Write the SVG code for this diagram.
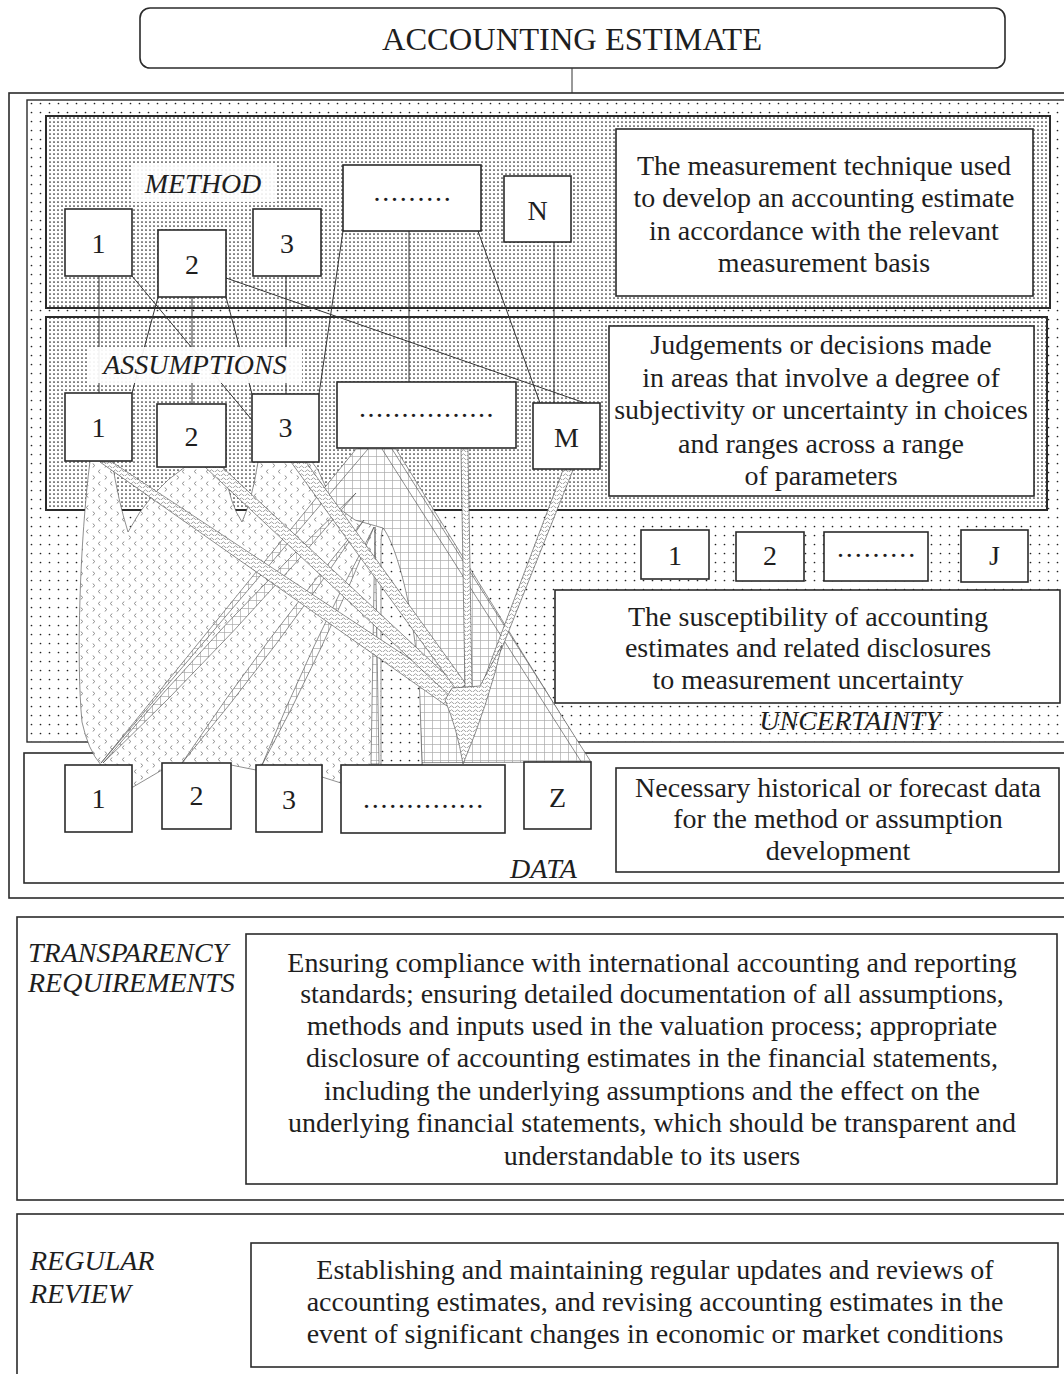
<svg xmlns="http://www.w3.org/2000/svg" width="1064" height="1374" viewBox="0 0 1064 1374">
<defs>
  <pattern id="dense" width="4" height="4" patternUnits="userSpaceOnUse">
    <rect width="4" height="4" fill="#fff"/>
    <circle cx="2" cy="2" r="0.85" fill="#222"/>
  </pattern>
  <pattern id="sparse" width="9" height="9" patternUnits="userSpaceOnUse">
    <rect width="9" height="9" fill="#fff"/>
    <circle cx="4.5" cy="4.5" r="0.85" fill="#222"/>
  </pattern>
  <pattern id="chev" width="12" height="12" patternUnits="userSpaceOnUse">
    <rect width="12" height="12" fill="#fff"/>
    <path d="M4,1.5 L2.5,3.5 L4,5.5 M9,7.5 L10.5,9.5 L9,11.5" fill="none" stroke="#777" stroke-width="0.9"/>
  </pattern>
  <pattern id="grid" width="8" height="8" patternUnits="userSpaceOnUse">
    <rect width="8" height="8" fill="#fff"/>
    <path d="M0,0.5 H8 M0.5,0 V8" fill="none" stroke="#aaa" stroke-width="0.7"/>
  </pattern>
  <pattern id="wave" width="6" height="4" patternUnits="userSpaceOnUse">
    <rect width="6" height="4" fill="#fff"/>
    <path d="M0,3 Q1.5,0.5 3,3 T6,3" fill="none" stroke="#999" stroke-width="0.9"/>
  </pattern>
</defs>
<style>
  .frame{fill:#fff;stroke:#2b2b2b;stroke-width:1.6}
  .box{fill:#fff;stroke:#2b2b2b;stroke-width:1.6}
  .t{font-family:"Liberation Serif","Times New Roman",serif;font-size:28px;fill:#1e1e1e;text-anchor:middle}
  .lbl{font-family:"Liberation Serif","Times New Roman",serif;font-size:28px;font-style:italic;fill:#1e1e1e}
  .fan{stroke:#444;stroke-width:0.6}
  .conn line{stroke:#333;stroke-width:1}
</style>

<!-- title -->
<g id="title">
  <rect class="box" x="140" y="8" width="865" height="60" rx="10"/>
  <text class="t" x="572" y="50" style="font-size:32.5px">ACCOUNTING ESTIMATE</text>
</g>

<!-- regions -->
<g id="estimate-frame">
  <rect class="frame" x="9" y="93" width="1070" height="805"/>
</g>
<g id="uncertainty-region">
  <rect x="27" y="100" width="1050" height="642" fill="url(#sparse)" stroke="#2b2b2b" stroke-width="1.4"/>
</g>
<g id="method-region">
  <rect x="46" y="116" width="1004" height="192" fill="url(#dense)" stroke="#2b2b2b" stroke-width="2"/>
</g>
<g id="assumptions-region">
  <rect x="46" y="317" width="1001" height="193" fill="url(#dense)" stroke="#2b2b2b" stroke-width="2"/>
</g>
<g id="data-region">
  <rect class="frame" x="24" y="753" width="1055" height="130"/>
</g>

<!-- fans -->
<g id="fans">
  <path class="fan" fill="url(#grid)" d="M358,449 L396,449 L590,762 L101,764 Z"/>
  <path class="fan" fill="url(#chev)" d="M90,461 C80,540 76,660 82,722 Q88,750 101,765 L101,790 L133,787 L162,770 L231,765 L256,770 L322,777 L341,783 L422,765 C421,700 410,590 383,528 L355,520 L334,505 L318,470 L312,462 L258,462 Q252,500 242,522 Q230,505 224,467 L185,467 Q150,490 128,532 Q118,500 112,461 Z"/>
  <path class="fan" fill="url(#sparse)" d="M383,528 C397,545 417,620 420,700 L422,765 L381,765 L381,545 Q381,532 383,528 Z"/>
  <path class="fan" fill="url(#grid)" d="M101,763 L356,449 L368,449 Z"/>
  <path class="fan" fill="url(#grid)" d="M103,763 Q236.8,634.8 356,493 Q222.2,621.2 103,763 Z"/>
  <path class="fan" fill="url(#grid)" d="M182,763 Q279.4,646.3 364,520 Q266.6,636.7 182,763 Z"/>
  <path class="fan" fill="url(#grid)" d="M262,765 Q324.3,649 374,527 Q311.7,643 262,765 Z"/>
  <path class="fan" fill="url(#grid)" d="M371,764 L375,527 L379,764 Z"/>
  <path class="fan" fill="url(#grid)" d="M382,449 L392,449 L591,762 L582,763 Z"/>
  <path class="fan" fill="url(#wave)" d="M100,462 L112,462 L457,690 L447,706 Z"/>
  <path class="fan" fill="url(#wave)" d="M205,467 L222,467 L460,688 L452,698 Z"/>
  <path class="fan" fill="url(#wave)" d="M291,462 L306,462 L466,684 L458,692 Z"/>
  <path class="fan" fill="url(#wave)" d="M461,449 L468,449 L472,688 L465,690 Z"/>
  <path class="fan" fill="url(#wave)" d="M563,470 L573,470 L502,648 L480,690 Z"/>
  <path class="fan" fill="url(#wave)" d="M445,700 L452,688 L480,686 L502,645 Q488,705 463,764 Q457,728 445,700 Z"/>
</g>

<!-- connectors -->
<g id="connectors" class="conn">
  <line x1="572" y1="68" x2="572" y2="93"/>
  <line x1="99" y1="276" x2="99" y2="393"/>
  <line x1="132" y1="276" x2="252" y2="420"/>
  <line x1="158" y1="297" x2="132" y2="393"/>
  <line x1="192" y1="297" x2="192" y2="404"/>
  <line x1="226" y1="297" x2="252" y2="394"/>
  <line x1="226" y1="278" x2="585" y2="403"/>
  <line x1="286" y1="276" x2="286" y2="394"/>
  <line x1="343" y1="231" x2="319" y2="394"/>
  <line x1="409" y1="231" x2="409" y2="382"/>
  <line x1="478" y1="231" x2="540" y2="403"/>
  <line x1="554" y1="242" x2="554" y2="403"/>
</g>

<!-- section labels -->
<g id="label-method">
  <rect x="132" y="163" width="143" height="39" fill="#fff" opacity="0.88"/>
  <text class="lbl" x="203" y="193" text-anchor="middle">METHOD</text>
</g>
<g id="label-assumptions">
  <rect x="89" y="347" width="213" height="36" fill="#fff" opacity="0.92"/>
  <text class="lbl" x="195" y="374" text-anchor="middle">ASSUMPTIONS</text>
</g>

<!-- method nodes -->
<g id="m1"><rect class="box" x="65" y="209" width="67" height="67"/><text class="t" x="98.5" y="253">1</text></g>
<g id="m2"><rect class="box" x="158" y="230" width="68" height="67"/><text class="t" x="192" y="274">2</text></g>
<g id="m3"><rect class="box" x="253" y="209" width="68" height="67"/><text class="t" x="287" y="253">3</text></g>
<g id="m-dots"><rect class="box" x="343" y="165" width="138" height="66"/><text class="t" x="413" y="201" style="letter-spacing:1.8px">.........</text></g>
<g id="mN"><rect class="box" x="504" y="176" width="67" height="66"/><text class="t" x="537.5" y="220">N</text></g>
<g id="method-desc">
  <rect class="box" x="616" y="129" width="417" height="167"/>
  <text class="t" x="824" y="175">The measurement technique used</text>
  <text class="t" x="824" y="207">to develop an accounting estimate</text>
  <text class="t" x="824" y="240">in accordance with the relevant</text>
  <text class="t" x="824" y="272">measurement basis</text>
</g>

<!-- assumption nodes -->
<g id="a1"><rect class="box" x="65" y="393" width="67" height="68"/><text class="t" x="98.5" y="437">1</text></g>
<g id="a2"><rect class="box" x="157" y="404" width="69" height="63"/><text class="t" x="191.5" y="446">2</text></g>
<g id="a3"><rect class="box" x="252" y="394" width="67" height="68"/><text class="t" x="285.5" y="437">3</text></g>
<g id="a-dots"><rect class="box" x="337" y="382" width="179" height="66"/><text class="t" x="427" y="417" style="letter-spacing:1.5px">................</text></g>
<g id="aM"><rect class="box" x="533" y="403" width="67" height="66"/><text class="t" x="566.5" y="447">M</text></g>
<g id="assumptions-desc">
  <rect class="box" x="609" y="326" width="425" height="170"/>
  <text class="t" x="821" y="354">Judgements or decisions made</text>
  <text class="t" x="821" y="387">in areas that involve a degree of</text>
  <text class="t" x="821" y="419">subjectivity or uncertainty in choices</text>
  <text class="t" x="821" y="453">and ranges across a range</text>
  <text class="t" x="821" y="485">of parameters</text>
</g>

<!-- uncertainty nodes -->
<g id="u1"><rect class="box" x="641" y="530" width="68" height="49"/><text class="t" x="675" y="565">1</text></g>
<g id="u2"><rect class="box" x="736" y="532" width="68" height="49"/><text class="t" x="770" y="565">2</text></g>
<g id="u-dots"><rect class="box" x="824" y="532" width="104" height="49"/><text class="t" x="877" y="557" style="letter-spacing:1.9px">.........</text></g>
<g id="uJ"><rect class="box" x="961" y="530" width="67" height="52"/><text class="t" x="994.5" y="565">J</text></g>
<g id="uncertainty-desc">
  <rect class="box" x="555" y="590" width="505" height="113"/>
  <text class="t" x="808" y="626">The susceptibility of accounting</text>
  <text class="t" x="808" y="657">estimates and related disclosures</text>
  <text class="t" x="808" y="689">to measurement uncertainty</text>
</g>
<g id="label-uncertainty">
  <text class="lbl" x="850" y="730" text-anchor="middle">UNCERTAINTY</text>
</g>

<!-- data nodes -->
<g id="d1"><rect class="box" x="65" y="765" width="67" height="67"/><text class="t" x="98.5" y="808">1</text></g>
<g id="d2"><rect class="box" x="162" y="763" width="69" height="66"/><text class="t" x="196.5" y="805">2</text></g>
<g id="d3"><rect class="box" x="256" y="765" width="66" height="67"/><text class="t" x="289" y="809">3</text></g>
<g id="d-dots"><rect class="box" x="341" y="765" width="164" height="68"/><text class="t" x="424" y="808" style="letter-spacing:1.7px">..............</text></g>
<g id="dZ"><rect class="box" x="524" y="762" width="67" height="67"/><text class="t" x="557.5" y="807">Z</text></g>
<g id="data-desc">
  <rect class="box" x="616" y="768" width="443" height="104"/>
  <text class="t" x="838" y="797">Necessary historical or forecast data</text>
  <text class="t" x="838" y="828">for the method or assumption</text>
  <text class="t" x="838" y="860">development</text>
</g>
<g id="label-data">
  <text class="lbl" x="510" y="878">DATA</text>
</g>

<!-- transparency -->
<g id="transparency">
  <rect class="frame" x="17" y="917" width="1062" height="283"/>
  <text class="lbl" x="28" y="962">TRANSPARENCY</text>
  <text class="lbl" x="28" y="992">REQUIREMENTS</text>
  <rect class="box" x="246" y="934" width="811" height="250"/>
  <text class="t" x="652" y="972">Ensuring compliance with international accounting and reporting</text>
  <text class="t" x="652" y="1003">standards; ensuring detailed documentation of all assumptions,</text>
  <text class="t" x="652" y="1035">methods and inputs used in the valuation process; appropriate</text>
  <text class="t" x="652" y="1067">disclosure of accounting estimates in the financial statements,</text>
  <text class="t" x="652" y="1100">including the underlying assumptions and the effect on the</text>
  <text class="t" x="652" y="1132">underlying financial statements, which should be transparent and</text>
  <text class="t" x="652" y="1165">understandable to its users</text>
</g>

<!-- regular review -->
<g id="regular-review">
  <rect class="frame" x="17" y="1214" width="1062" height="180"/>
  <text class="lbl" x="30" y="1270">REGULAR</text>
  <text class="lbl" x="30" y="1303">REVIEW</text>
  <rect class="box" x="251" y="1243" width="807" height="124"/>
  <text class="t" x="655" y="1279">Establishing and maintaining regular updates and reviews of</text>
  <text class="t" x="655" y="1311">accounting estimates, and revising accounting estimates in the</text>
  <text class="t" x="655" y="1343">event of significant changes in economic or market conditions</text>
</g>
</svg>
